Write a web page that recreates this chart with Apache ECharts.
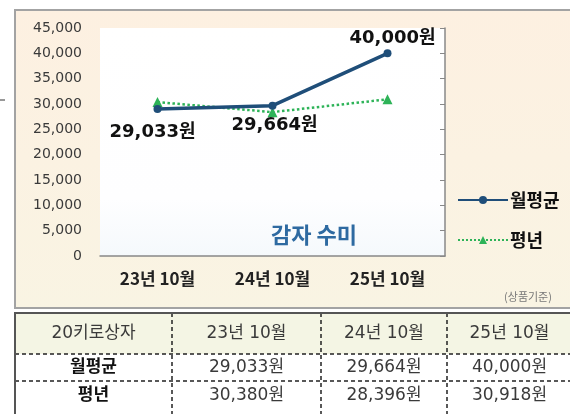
<!DOCTYPE html>
<html>
<head>
<meta charset="utf-8">
<script src="https://cdn.jsdelivr.net/npm/echarts@6/dist/echarts.min.js"></script>
<style>
html, body { margin: 0; padding: 0; background: #fff; }
#chart { width: 570px; height: 414px; }
</style>
</head>
<body>
<div id="chart"></div>
<script>
// data
var categories = ['23년 10월', '24년 10월', '25년 10월'];
var monthlyAvg = [29033, 29664, 40000];
var normalYear = [30380, 28396, 30918];
var seriesNames = ['월평균', '평년'];
var yMin = 0, yMax = 45000, yStep = 5000;
var tableCorner = '20키로상자';
var chartTitle = '감자 수미';
var note = '(상품기준)';

var KR = '"Noto Sans CJK KR", "DejaVu Sans", sans-serif';
var NUM = '"DejaVu Sans", "Noto Sans CJK KR", sans-serif';
function won(v) { return v.toLocaleString('en-US') + '원'; }

// label placement for the 월평균 points
var blueLabelPos = ['bottom', 'bottom', 'top'];
var blueLabelOff = [[-5, 0], [2, 0], [5, 0]];
var blueLabelDist = [10, 7, 2];

var chart = echarts.init(document.getElementById('chart'));

// table drawn as graphic elements
var colX = [15, 172, 321, 447, 572];
var rowY = [313, 354, 381, 414];
var rows = [
  [tableCorner].concat(categories),
  [seriesNames[0]].concat(monthlyAvg.map(won)),
  [seriesNames[1]].concat(normalYear.map(won))
];
var tbl = [];
tbl.push({ type: 'rect', z: 50, shape: { x: colX[0], y: rowY[0], width: colX[4] - colX[0], height: rowY[1] - rowY[0] },
  style: { fill: '#f4f5e4' } });
tbl.push({ type: 'rect', z: 50, shape: { x: colX[0], y: rowY[1], width: colX[4] - colX[0], height: rowY[3] - rowY[1] },
  style: { fill: '#ffffff' } });
// dashed inner lines
for (var c = 1; c < colX.length - 1; c++) {
  tbl.push({ type: 'line', z: 51, shape: { x1: colX[c], y1: rowY[0], x2: colX[c], y2: rowY[3] },
    style: { stroke: '#222', lineWidth: 1.5, lineDash: [4, 3] } });
}
for (var r = 1; r < rowY.length - 1; r++) {
  tbl.push({ type: 'line', z: 51, shape: { x1: colX[0], y1: rowY[r], x2: colX[4], y2: rowY[r] },
    style: { stroke: '#222', lineWidth: 1.5, lineDash: [4, 3] } });
}
// solid outer border (top + left)
tbl.push({ type: 'polyline', z: 52, shape: { points: [[colX[0], rowY[3]], [colX[0], rowY[0]], [colX[4], rowY[0]]] },
  style: { stroke: '#555', lineWidth: 2, fill: null } });
rows.forEach(function (row, ri) {
  row.forEach(function (txt, ci) {
    var bold = ci === 0 && ri > 0;
    tbl.push({ type: 'text', z: 53, style: {
      text: txt, x: (colX[ci] + colX[ci + 1]) / 2, y: (rowY[ri] + rowY[ri + 1]) / 2 + (ri === 2 ? -2 : 0),
      align: 'center', verticalAlign: 'middle',
      font: (bold ? 'bold ' : '') + '17px ' + NUM,
      fill: bold ? '#111' : '#3a3a3a'
    } });
  });
});

var option = {
  animation: false,
  backgroundColor: '#ffffff',
  title: {
    text: chartTitle, left: 266, top: 219,
    textStyle: { fontFamily: KR, fontSize: 22, fontWeight: 'bold', color: '#2e6aa1' }
  },
  legend: {
    data: seriesNames, orient: 'vertical', left: 452, top: 186,
    itemWidth: 50, itemHeight: 10, itemGap: 22,
    textStyle: { fontFamily: KR, fontSize: 18, fontWeight: 'bold', color: '#111', padding: [0, 0, 0, -3] }
  },
  grid: {
    left: 100, right: 125, top: 28, bottom: 158, show: true, borderWidth: 0,
    backgroundColor: new echarts.graphic.LinearGradient(0, 0, 0, 1, [
      { offset: 0, color: '#ffffff' }, { offset: 0.75, color: '#fefeff' }, { offset: 1, color: '#f5f9fc' }
    ])
  },
  xAxis: {
    type: 'category', data: categories, boundaryGap: true,
    axisLine: { lineStyle: { color: '#888', width: 1.5 } },
    axisTick: { length: 4, lineStyle: { color: '#888' } },
    axisLabel: { margin: 14, fontFamily: KR, fontSize: 17, fontWeight: 'bold', color: '#222' }
  },
  yAxis: [{
    type: 'value', min: yMin, max: yMax, interval: yStep,
    axisLine: { show: false }, axisTick: { show: false }, splitLine: { show: false },
    axisLabel: { margin: 18, fontFamily: NUM, fontSize: 14, color: '#3a3a3a',
      formatter: function (v) { return v.toLocaleString('en-US'); } }
  }, {
    type: 'value', position: 'right', min: yMin, max: yMax, interval: yStep,
    axisLine: { show: true, lineStyle: { color: '#888', width: 1.5 } },
    axisTick: { show: true, inside: true, length: 5, lineStyle: { color: '#888' } },
    axisLabel: { show: false }, splitLine: { show: false }
  }],
  series: [{
    name: seriesNames[0], type: 'line', z: 5,
    data: monthlyAvg.map(function (v, i) {
      return { value: v, label: { position: blueLabelPos[i], offset: blueLabelOff[i], distance: blueLabelDist[i] } };
    }),
    color: '#1f4e79', symbol: 'circle', symbolSize: 8,
    lineStyle: { width: 3.5, color: '#1f4e79' },
    label: { show: true, fontFamily: NUM, fontSize: 18, fontWeight: 'bold', color: '#111',
      formatter: function (p) { return won(p.value); } }
  }, {
    name: seriesNames[1], type: 'line', z: 4,
    data: normalYear,
    color: '#2db358', symbol: 'triangle', symbolSize: 10,
    lineStyle: { width: 2.5, type: 'dotted', color: '#2db358' }
  }],
  graphic: [
    { type: 'rect', z: -10, shape: { x: 15, y: 10, width: 558, height: 298 },
      style: { stroke: '#a3a3a3', lineWidth: 2,
        fill: new echarts.graphic.LinearGradient(0, 0, 0, 1, [
          { offset: 0, color: '#fdf0e1' }, { offset: 1, color: '#f9f4e3' }
        ]) } },
    { type: 'line', z: 1, shape: { x1: 0, y1: 100, x2: 5, y2: 100 }, style: { stroke: '#333', lineWidth: 1 } },
    { type: 'text', z: 1, style: { text: note, x: 528, y: 297, align: 'center', verticalAlign: 'middle',
      font: '11px ' + KR, fill: '#777' } }
  ].concat(tbl)
};
chart.setOption(option);
</script>
</body>
</html>
